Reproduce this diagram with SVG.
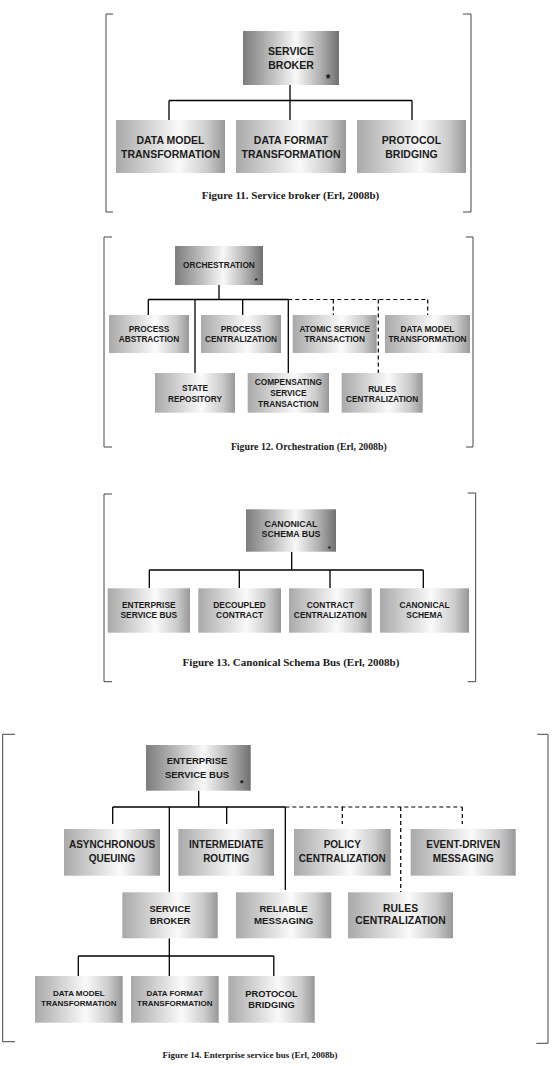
<svg xmlns="http://www.w3.org/2000/svg" width="554" height="1066" viewBox="0 0 554 1066">
<defs>
<linearGradient id="gTop" x1="0" y1="0" x2="1" y2="0">
<stop offset="0" stop-color="#7c7c7c"/>
<stop offset="0.3" stop-color="#bebebe"/>
<stop offset="0.55" stop-color="#f8f8f8"/>
<stop offset="0.8" stop-color="#b2b2b2"/>
<stop offset="1" stop-color="#707070"/>
</linearGradient>
<linearGradient id="gChild" x1="0" y1="0" x2="1" y2="0">
<stop offset="0" stop-color="#a9a9a9"/>
<stop offset="0.32" stop-color="#d6d6d6"/>
<stop offset="0.58" stop-color="#fafafa"/>
<stop offset="0.84" stop-color="#cbcbcb"/>
<stop offset="1" stop-color="#989898"/>
</linearGradient>
<style>
.top{fill:url(#gTop)}
.ch{fill:url(#gChild)}
.t{font-family:"Liberation Sans",Arial,sans-serif;font-weight:bold;fill:#1a1a1a;text-anchor:middle}
.cap{font-family:"Liberation Serif","Times New Roman",serif;fill:#1a1a1a;text-anchor:middle}
.ast{font-family:"Liberation Sans",Arial,sans-serif;font-weight:bold;fill:#111;text-anchor:middle}
.br{fill:none;stroke:#444;stroke-width:1}
.ln{fill:none;stroke:#000;stroke-width:1.3}
.ds{fill:none;stroke:#000;stroke-width:1.2;stroke-dasharray:4 3}
</style>
</defs>

<!-- ===== Figure 11 ===== -->
<g id="fig11-frame">
<path class="br" d="M113,14 H106 V212 H113"/>
<path class="br" d="M463,14 H471 V212 H463"/>
</g>
<g id="fig11-connectors">
<path class="ln" d="M290,85 V100.5 M169,100.5 H412 M169,100.5 V120 M290,100.5 V120 M412,100.5 V120"/>
</g>
<g id="fig11-service-broker">
<rect class="top" x="243" y="31" width="96" height="54"/>
<text class="t" font-size="10.5" x="291" y="55">SERVICE</text>
<text class="t" font-size="10.5" x="291" y="68.5">BROKER</text>
<text class="ast" font-size="12" x="328" y="83">*</text>
</g>
<g id="fig11-data-model">
<rect class="ch" x="116" y="120" width="109" height="53"/>
<text class="t" font-size="10.5" x="170.5" y="144.3">DATA MODEL</text>
<text class="t" font-size="10.5" x="170.5" y="157.7">TRANSFORMATION</text>
</g>
<g id="fig11-data-format">
<rect class="ch" x="236" y="120" width="110" height="53"/>
<text class="t" font-size="10.5" x="291" y="144.3">DATA FORMAT</text>
<text class="t" font-size="10.5" x="291" y="157.7">TRANSFORMATION</text>
</g>
<g id="fig11-protocol">
<rect class="ch" x="357" y="120" width="109" height="53"/>
<text class="t" font-size="10.5" x="411.5" y="144.3">PROTOCOL</text>
<text class="t" font-size="10.5" x="411.5" y="157.7">BRIDGING</text>
</g>
<text class="cap" font-size="11" font-weight="bold" x="290.5" y="199">Figure 11. Service broker (Erl, 2008b)</text>

<!-- ===== Figure 12 ===== -->
<g id="fig12-frame">
<path class="br" d="M112,237 H104 V447 H112"/>
<path class="br" d="M466,237 H473 V447 H466"/>
</g>
<g id="fig12-connectors">
<path class="ln" d="M219,285 V299.5 M148.3,299.5 H288.3 M148.3,299.5 V315 M195,299.5 V373 M242.7,299.5 V315 M288.3,299.5 V373"/>
<path class="ds" d="M288.3,299.5 H427.7 M333.3,299.5 V315 M378.3,299.5 V373 M427.7,299.5 V315"/>
</g>
<g id="fig12-orchestration">
<rect class="top" x="175" y="246" width="88" height="39"/>
<text class="t" font-size="8.3" x="219" y="267.7">ORCHESTRATION</text>
<text class="ast" font-size="8" x="256" y="283">*</text>
</g>
<g id="fig12-process-abstraction">
<rect class="ch" x="109" y="315" width="80" height="38"/>
<text class="t" font-size="8.3" x="149" y="331.7">PROCESS</text>
<text class="t" font-size="8.3" x="149" y="341.7">ABSTRACTION</text>
</g>
<g id="fig12-process-centralization">
<rect class="ch" x="201" y="315" width="80" height="38"/>
<text class="t" font-size="8.3" x="241" y="331.7">PROCESS</text>
<text class="t" font-size="8.3" x="241" y="341.7">CENTRALIZATION</text>
</g>
<g id="fig12-atomic">
<rect class="ch" x="292.7" y="315" width="84" height="38"/>
<text class="t" font-size="8.3" x="334.7" y="331.7">ATOMIC SERVICE</text>
<text class="t" font-size="8.3" x="334.7" y="341.7">TRANSACTION</text>
</g>
<g id="fig12-data-model">
<rect class="ch" x="385" y="315" width="85" height="38"/>
<text class="t" font-size="8.3" x="427.5" y="331.7">DATA MODEL</text>
<text class="t" font-size="8.3" x="427.5" y="341.7">TRANSFORMATION</text>
</g>
<g id="fig12-state-repository">
<rect class="ch" x="155" y="373" width="80" height="39.7"/>
<text class="t" font-size="8.3" x="195" y="391">STATE</text>
<text class="t" font-size="8.3" x="195" y="401.7">REPOSITORY</text>
</g>
<g id="fig12-compensating">
<rect class="ch" x="247.7" y="373" width="81.3" height="39.7"/>
<text class="t" font-size="8.3" x="288.3" y="385">COMPENSATING</text>
<text class="t" font-size="8.3" x="288.3" y="395.7">SERVICE</text>
<text class="t" font-size="8.3" x="288.3" y="406.5">TRANSACTION</text>
</g>
<g id="fig12-rules">
<rect class="ch" x="341.7" y="373" width="81" height="39.7"/>
<text class="t" font-size="8.3" x="382.2" y="391.5">RULES</text>
<text class="t" font-size="8.3" x="382.2" y="401.7">CENTRALIZATION</text>
</g>
<text class="cap" font-size="9.8" font-weight="bold" x="308.8" y="450">Figure 12. Orchestration (Erl, 2008b)</text>

<!-- ===== Figure 13 ===== -->
<g id="fig13-frame">
<path class="br" d="M112,494 H104 V681.7 H112"/>
<path class="br" d="M467.7,493 H475.7 V681.7 H467.7"/>
</g>
<g id="fig13-connectors">
<path class="ln" d="M291.7,551.7 V570 M149.3,570 H423.3 M149.3,570 V588.3 M239.3,570 V588.3 M330,570 V588.3 M423.3,570 V588.3"/>
</g>
<g id="fig13-canonical-schema-bus">
<rect class="top" x="246" y="509.3" width="90" height="42.4"/>
<text class="t" font-size="8.8" x="291" y="526.7">CANONICAL</text>
<text class="t" font-size="8.8" x="291" y="537.3">SCHEMA BUS</text>
<text class="ast" font-size="8" x="329.3" y="551">*</text>
</g>
<g id="fig13-esb">
<rect class="ch" x="107.7" y="588.3" width="82.3" height="44.4"/>
<text class="t" font-size="8.4" x="148.8" y="608.3">ENTERPRISE</text>
<text class="t" font-size="8.4" x="148.8" y="618.3">SERVICE BUS</text>
</g>
<g id="fig13-decoupled">
<rect class="ch" x="198.3" y="588.3" width="82.7" height="44.4"/>
<text class="t" font-size="8.4" x="239.6" y="608.3">DECOUPLED</text>
<text class="t" font-size="8.4" x="239.6" y="618.3">CONTRACT</text>
</g>
<g id="fig13-contract-centralization">
<rect class="ch" x="289" y="588.3" width="82.7" height="44.4"/>
<text class="t" font-size="8.4" x="330.3" y="608.3">CONTRACT</text>
<text class="t" font-size="8.4" x="330.3" y="618.3">CENTRALIZATION</text>
</g>
<g id="fig13-canonical-schema">
<rect class="ch" x="380" y="588.3" width="89" height="44.4"/>
<text class="t" font-size="8.4" x="424.5" y="608.3">CANONICAL</text>
<text class="t" font-size="8.4" x="424.5" y="618.3">SCHEMA</text>
</g>
<text class="cap" font-size="11" font-weight="bold" x="291" y="665.5">Figure 13. Canonical Schema Bus (Erl, 2008b)</text>

<!-- ===== Figure 14 ===== -->
<g id="fig14-frame">
<path class="br" d="M15,734.3 H2.7 V1041.7 H15"/>
<path class="br" d="M537.3,734.3 H548 V1043.3 H536.3"/>
</g>
<g id="fig14-connectors">
<path class="ln" d="M198.7,790.7 V807 M112.7,807 H285.3 M112.7,807 V824 M226.7,807 V824 M169.3,807 V892.3 M285.3,807 V890"/>
<path class="ds" d="M285.3,807 H462.3 M342.3,807 V824 M462.3,807 V824 M400.7,807 V892.3"/>
<path class="ln" d="M169.3,938.3 V956 M78.3,956 H273.8 M78.3,956 V976 M169.3,956 V976 M273.8,956 V976"/>
</g>
<g id="fig14-esb">
<rect class="top" x="146" y="745" width="104.7" height="45.7"/>
<text class="t" font-size="9.5" x="197" y="764.3">ENTERPRISE</text>
<text class="t" font-size="9.5" x="197" y="777.7">SERVICE BUS</text>
<text class="ast" font-size="9" x="241.7" y="786">*</text>
</g>
<g id="fig14-async">
<rect class="ch" x="64" y="829" width="96" height="46.7"/>
<text class="t" font-size="10" x="112" y="848.3">ASYNCHRONOUS</text>
<text class="t" font-size="10" x="112" y="861.7">QUEUING</text>
</g>
<g id="fig14-intermediate">
<rect class="ch" x="178.3" y="829" width="95.7" height="46.7"/>
<text class="t" font-size="10" x="226.2" y="848.3">INTERMEDIATE</text>
<text class="t" font-size="10" x="226.2" y="861.7">ROUTING</text>
</g>
<g id="fig14-policy">
<rect class="ch" x="294" y="829" width="96.7" height="46.7"/>
<text class="t" font-size="10" x="342.3" y="848.3">POLICY</text>
<text class="t" font-size="10" x="342.3" y="861.7">CENTRALIZATION</text>
</g>
<g id="fig14-event-driven">
<rect class="ch" x="410.7" y="829" width="105" height="46.7"/>
<text class="t" font-size="10" x="463.2" y="848.3">EVENT-DRIVEN</text>
<text class="t" font-size="10" x="463.2" y="861.7">MESSAGING</text>
</g>
<g id="fig14-service-broker">
<rect class="ch" x="122.3" y="892.3" width="95.4" height="46"/>
<text class="t" font-size="9.4" x="170" y="911.7">SERVICE</text>
<text class="t" font-size="9.4" x="170" y="923.5">BROKER</text>
</g>
<g id="fig14-reliable">
<rect class="ch" x="236" y="892.3" width="95.3" height="46"/>
<text class="t" font-size="9.7" x="283.6" y="911.7">RELIABLE</text>
<text class="t" font-size="9.7" x="283.6" y="923.5">MESSAGING</text>
</g>
<g id="fig14-rules">
<rect class="ch" x="348" y="892.3" width="105" height="46"/>
<text class="t" font-size="10.4" x="400.5" y="911.7">RULES</text>
<text class="t" font-size="10.4" x="400.5" y="924.3">CENTRALIZATION</text>
</g>
<g id="fig14-data-model">
<rect class="ch" x="35" y="976" width="87.7" height="46.7"/>
<text class="t" font-size="8" x="78.8" y="996">DATA MODEL</text>
<text class="t" font-size="8" x="78.8" y="1006">TRANSFORMATION</text>
</g>
<g id="fig14-data-format">
<rect class="ch" x="131" y="976" width="87.7" height="46.7"/>
<text class="t" font-size="8" x="174.8" y="996">DATA FORMAT</text>
<text class="t" font-size="8" x="174.8" y="1006">TRANSFORMATION</text>
</g>
<g id="fig14-protocol">
<rect class="ch" x="228.3" y="976" width="86.4" height="46.7"/>
<text class="t" font-size="9.3" x="271.5" y="996.7">PROTOCOL</text>
<text class="t" font-size="9.3" x="271.5" y="1007.7">BRIDGING</text>
</g>
<text class="cap" font-size="9" font-weight="bold" x="250" y="1058">Figure 14. Enterprise service bus (Erl, 2008b)</text>
</svg>
